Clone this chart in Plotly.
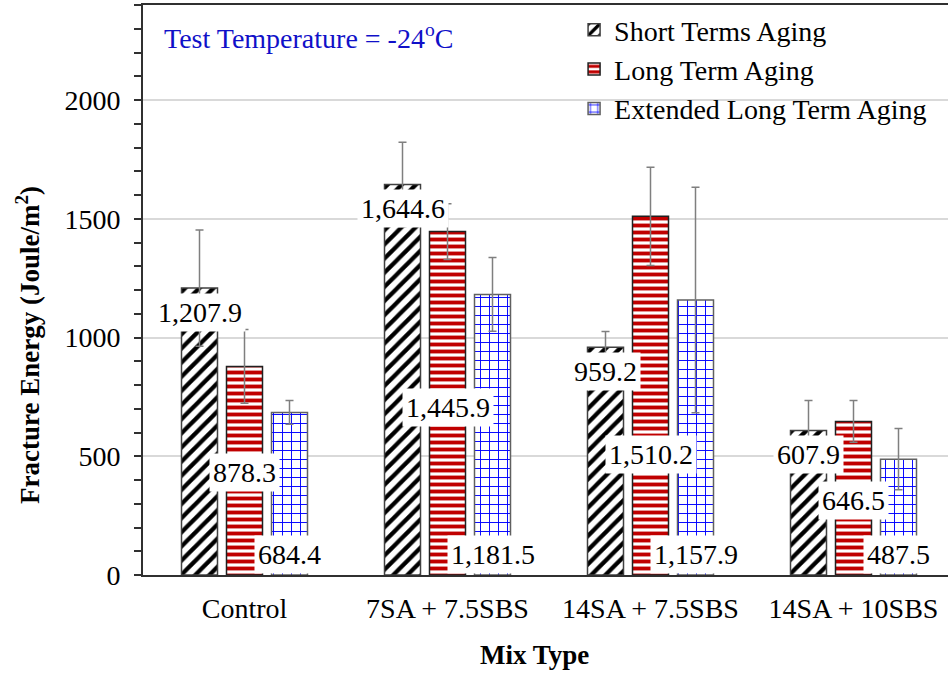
import plotly.graph_objects as go

# ---------------- data ----------------
categories = ["Control", "7SA + 7.5SBS", "14SA + 7.5SBS", "14SA + 10SBS"]
series_names = ["Short Terms Aging", "Long Term Aging", "Extended Long Term Aging"]
short_term = [1207.9, 1644.6, 959.2, 607.9]
long_term = [878.3, 1445.9, 1510.2, 646.5]
extended = [684.4, 1181.5, 1157.9, 487.5]
short_err = [245, 178, 66, 127]
long_err = [155, 117, 207, 88]
ext_err = [50, 155, 475, 129]
long_label_y = [430, 705, 506, 312]   # vertical anchor (data units) of the long-term labels
y_tick_vals = [0, 500, 1000, 1500, 2000]

# ---------------- style ----------------
FONT = "Liberation Serif"
FS = 28
W, H = 948, 675
ML, MR, MT, MB = 143, 0, 5, 100
CAT_PX = 203.0
BARGAP = 0.335
plot_w = W - ML - MR
x_range = [-0.5, -0.5 + plot_w / CAT_PX]

values = [short_term, long_term, extended]
errors = [short_err, long_err, ext_err]
patterns = [
    dict(shape="/", fgcolor="#000000", bgcolor="#ffffff", size=10, solidity=0.42, fillmode="replace", fgopacity=1),
    dict(shape="-", fgcolor="#C00000", bgcolor="#ffffff", size=7, solidity=0.55, fillmode="replace", fgopacity=1),
    dict(shape="+", fgcolor="#0000FF", bgcolor="#ffffff", size=9, solidity=0.2, fillmode="replace", fgopacity=1),
]
outline = ["#404040", "#202020", "#606060"]

fig = go.Figure()
for name, vals, errs, pat, oc in zip(series_names, values, errors, patterns, outline):
    fig.add_trace(go.Bar(
        x=categories, y=vals, name=name,
        marker=dict(color="#ffffff", pattern=pat, line=dict(color=oc, width=1.5)),
        error_y=dict(type="data", array=errs, visible=True, color="#7F7F7F", thickness=1.5, width=4),
    ))

# data labels
slot = (1 - BARGAP) / 3.0
annotations = []
for si, vals in enumerate(values):
    for ci, v in enumerate(vals):
        xpos = ci + (si - 1) * slot
        if si == 0:
            ypos, ysh = v, -24
        elif si == 1:
            ypos, ysh = long_label_y[ci], 0
        else:
            ypos, ysh = 0, 21
        annotations.append(dict(
            x=xpos, y=ypos, xref="x", yref="y", yshift=ysh,
            text=f"{v:,.1f}", showarrow=False,
            font=dict(family=FONT, size=FS, color="#000000"),
            bgcolor="#ffffff", borderpad=3, xanchor="center", yanchor="middle",
        ))

annotations += [
    dict(x=(162 - ML) / plot_w, y=(575 - 37) / 570, xref="paper", yref="paper",
         text="Test Temperature = -24<sup>o</sup>C", showarrow=False, xanchor="left", yanchor="middle",
         font=dict(family=FONT, size=FS, color="#1010C8")),
    dict(x=(28 - ML) / plot_w, y=(575 - 345) / 570, xref="paper", yref="paper",
         text="<b>Fracture Energy (Joule/m<sup>2</sup>)</b>", showarrow=False, textangle=-90,
         xanchor="center", yanchor="middle", font=dict(family=FONT, size=FS - 1, color="#000000")),
    dict(x=(534 - ML) / plot_w, y=-(655 - 575) / 570, xref="paper", yref="paper",
         text="<b>Mix Type</b>", showarrow=False, xanchor="center", yanchor="middle",
         font=dict(family=FONT, size=FS - 1, color="#000000")),
]

fig.update_layout(
    width=W, height=H,
    margin=dict(l=ML, r=MR, t=MT, b=MB, pad=0),
    paper_bgcolor="#ffffff", plot_bgcolor="#ffffff",
    barmode="group", bargap=BARGAP, bargroupgap=0.2,
    font=dict(family=FONT, size=FS, color="#000000"),
    showlegend=True,
    legend=dict(x=0.5355, y=1.0, xanchor="left", yanchor="top", bgcolor="rgba(0,0,0,0)",
                font=dict(family=FONT, size=FS), tracegroupgap=0, itemwidth=30),
    annotations=annotations,
)
fig.update_xaxes(
    range=x_range, showline=True, linecolor="#303030", linewidth=1.5, mirror=True,
    ticks="", showgrid=False, tickfont=dict(family=FONT, size=FS), ticklabelstandoff=8,
)
fig.update_yaxes(
    range=[0, 2400], tickvals=y_tick_vals, showline=True, linecolor="#303030", linewidth=2,
    ticks="outside", ticklen=7, tickwidth=1.5, tickcolor="#303030",
    minor=dict(dtick=100, ticks="outside", ticklen=7, tickwidth=1.5, tickcolor="#303030", showgrid=False),
    showgrid=True, gridcolor="#D9D9D9", gridwidth=1.5, zeroline=False,
    tickfont=dict(family=FONT, size=FS), ticklabelstandoff=8,
)

fig.write_html("out.html")
